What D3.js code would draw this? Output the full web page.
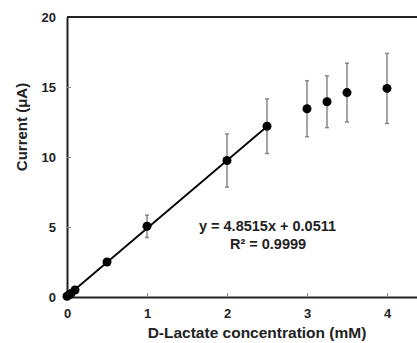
<!DOCTYPE html>
<html>
<head>
<meta charset="utf-8">
<script src="https://cdn.jsdelivr.net/npm/d3@7"></script>
<style>
  body { margin: 0; background: #fff; }
  text { font-family: "Liberation Sans", Arial, sans-serif; font-weight: bold; fill: #222; }
</style>
</head>
<body>
<div id="chart-area"></div>
<script>
// data
const conc = [0, 0.025, 0.05, 0.1, 0.5, 1, 2, 2.5, 3, 3.25, 3.5, 4];
const current = [0.05, 0.15, 0.25, 0.5, 2.5, 5.05, 9.75, 12.2, 13.45, 13.95, 14.6, 14.9];
const errors = [0, 0, 0, 0, 0, 0.8, 1.9, 1.95, 2.0, 1.85, 2.1, 2.5];
const xTicks = [0, 1, 2, 3, 4];
const yTicks = [0, 5, 10, 15, 20];
const slope = 4.8515, intercept = 0.0511;
const fitRange = [0, 2.5];

const width = 417, height = 343;
const svg = d3.select("#chart-area").append("svg")
  .attr("width", width).attr("height", height);

const x = d3.scaleLinear().domain([0, 4.5]).range([67, 427]);
const y = d3.scaleLinear().domain([0, 20]).range([297, 17]);

// axes (ticks pointing inward)
svg.append("g")
  .attr("transform", `translate(0,${y(0)})`)
  .call(d3.axisBottom(x).tickValues(xTicks).tickFormat(d3.format("d"))
    .tickSizeInner(-4).tickSizeOuter(0).tickPadding(11))
  .call(g => g.select(".domain").attr("stroke", "#222").attr("stroke-width", 2))
  .call(g => g.selectAll(".tick line").attr("stroke", "#888"))
  .call(g => g.selectAll(".tick text").attr("font-size", 13).attr("dy", "0.75em"));

svg.append("g")
  .attr("transform", `translate(${x(0)},0)`)
  .call(d3.axisLeft(y).tickValues(yTicks).tickFormat(d3.format("d"))
    .tickSizeInner(-4).tickSizeOuter(0).tickPadding(11))
  .call(g => g.select(".domain").attr("stroke", "#222").attr("stroke-width", 2))
  .call(g => g.selectAll(".tick line").attr("stroke", "#888"))
  .call(g => g.selectAll(".tick text").attr("font-size", 13));

// top border
svg.append("line")
  .attr("x1", x(0)).attr("x2", width)
  .attr("y1", y(20)).attr("y2", y(20))
  .attr("stroke", "#222").attr("stroke-width", 2);

// error bars
const eb = svg.append("g").attr("stroke", "#888").attr("stroke-width", 1.5);
conc.forEach((c, i) => {
  if (!errors[i]) return;
  const cx = x(c), top = y(current[i] + errors[i]), bot = y(current[i] - errors[i]);
  eb.append("line").attr("x1", cx).attr("x2", cx).attr("y1", top).attr("y2", bot);
  eb.append("line").attr("x1", cx - 2).attr("x2", cx + 2).attr("y1", top).attr("y2", top);
  eb.append("line").attr("x1", cx - 2).attr("x2", cx + 2).attr("y1", bot).attr("y2", bot);
});

// linear fit
svg.append("line")
  .attr("x1", x(fitRange[0])).attr("y1", y(slope * fitRange[0] + intercept))
  .attr("x2", x(fitRange[1])).attr("y2", y(slope * fitRange[1] + intercept))
  .attr("stroke", "#000").attr("stroke-width", 1.8);

// points
svg.append("g").selectAll("circle")
  .data(conc)
  .join("circle")
  .attr("cx", d => x(d))
  .attr("cy", (d, i) => y(current[i]))
  .attr("r", 4.5)
  .attr("fill", "#000");

// equation
svg.append("text").attr("x", 267.5).attr("y", 231).attr("text-anchor", "middle")
  .attr("font-size", 14.5).text("y = 4.8515x + 0.0511");
svg.append("text").attr("x", 268).attr("y", 248.5).attr("text-anchor", "middle")
  .attr("font-size", 14.5).text("R² = 0.9999");

// axis titles
svg.append("text").attr("x", 257).attr("y", 337.5).attr("text-anchor", "middle")
  .attr("font-size", 15.5).text("D-Lactate concentration (mM)");
svg.append("text")
  .attr("transform", "translate(27,127) rotate(-90)")
  .attr("text-anchor", "middle").attr("font-size", 15)
  .text("Current (μA)");
</script>
</body>
</html>
